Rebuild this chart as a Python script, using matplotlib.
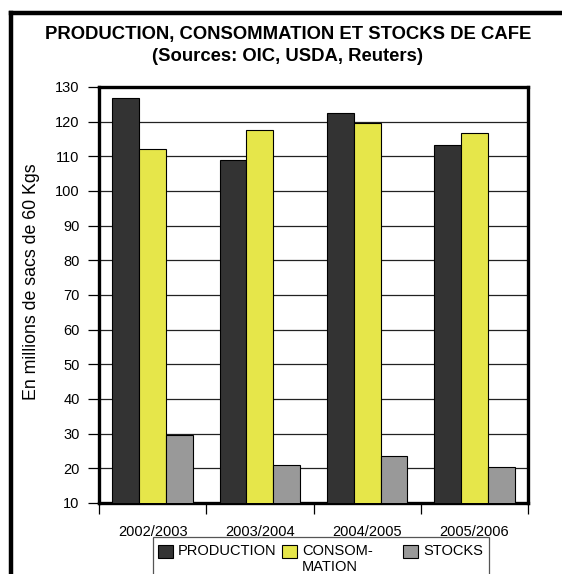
import matplotlib
matplotlib.use('Agg')
import matplotlib.pyplot as plt
from matplotlib.lines import Line2D
from matplotlib.patches import Rectangle
import numpy as np

plt.rcParams['font.family'] = ['Liberation Sans', 'DejaVu Sans']

campagnes = ['2002/2003', '2003/2004', '2004/2005', '2005/2006']
production = [126.7, 108.9, 122.6, 113.4]
consommation = [112.0, 117.5, 119.7, 116.7]
stocks = [29.6, 20.9, 23.7, 20.3]

series = [
    ('PRODUCTION', production, '#333333'),
    ('CONSOM-\nMATION', consommation, '#e6e64a'),
    ('STOCKS', stocks, '#999999'),
]

W, H = 562, 574
fig = plt.figure(figsize=(W / 100, H / 100), dpi=100)
ax = fig.add_axes([99 / W, 71 / H, 429 / W, 416 / H])


def fx(px):
    return px / W


def fy(py):
    return 1 - py / H


x = np.arange(len(campagnes))
w = 0.25
for i, (lab, vals, col) in enumerate(series):
    ax.bar(x + (i - 1) * w, vals, width=w, color=col, edgecolor='black',
           linewidth=0.8, label=lab, zorder=3)

ax.set_xlim(-0.5, len(campagnes) - 0.5)
ax.set_ylim(10, 130)
ax.set_yticks(range(10, 131, 10))
ax.yaxis.grid(True, color='#222222', linewidth=0.9, zorder=0)
ax.set_axisbelow(True)

# category labels centred, tick marks on the group boundaries
ax.set_xticks(x)
ax.set_xticklabels(campagnes)
ax.set_xticks(np.arange(-0.5, len(campagnes), 1.0), minor=True)
ax.tick_params(axis='x', which='major', length=0, pad=15.5, labelsize=10.5)
ax.tick_params(axis='x', which='minor', length=8, width=0.9, direction='out')
ax.tick_params(axis='y', length=8, width=0.9, direction='out', pad=6,
               labelsize=10.5)

for s in ax.spines.values():
    s.set_linewidth(2.4)
    s.set_color('black')

ax.set_ylabel('En millions de sacs de 60 Kgs', fontsize=12.8)
ax.yaxis.set_label_coords(-0.1375, 0.532)

# two-line title
fig.text(fx(288), fy(39), 'PRODUCTION, CONSOMMATION ET STOCKS DE CAFE',
         ha='center', va='baseline', fontsize=13.3, fontweight='bold')
fig.text(fx(288), fy(61), '(Sources: OIC, USDA, Reuters)',
         ha='center', va='baseline', fontsize=13.3, fontweight='bold')

# legend box under the axis, with swatches lined up on the first text line
fig.add_artist(Rectangle((fx(153), fy(585)), fx(489) - fx(153),
                         fy(537) - fy(585), facecolor='white',
                         edgecolor='#555555', linewidth=0.9,
                         transform=fig.transFigure))
swatch_x = [158, 282, 403]
for (lab, vals, col), sx in zip(series, swatch_x):
    fig.add_artist(Rectangle((fx(sx), fy(558)), fx(15), 13 / H,
                             facecolor=col, edgecolor='black', linewidth=0.8,
                             transform=fig.transFigure))
    # baseline alignment follows the last line of a wrapped label
    last_base = 555 + 16 * lab.count('\n')
    fig.text(fx(sx + 20), fy(last_base), lab, ha='left', va='baseline',
             fontsize=10.5, linespacing=1.22)

# outer frame, cut off at the right and bottom edges
fig.add_artist(Line2D([fx(10.5), fx(10.5)], [0, fy(13)],
                      color='black', linewidth=3.2,
                      transform=fig.transFigure, solid_capstyle='projecting'))
fig.add_artist(Line2D([fx(10.5), 1], [fy(13), fy(13)],
                      color='black', linewidth=3.2,
                      transform=fig.transFigure, solid_capstyle='projecting'))

fig.savefig('out.png', dpi=100)
